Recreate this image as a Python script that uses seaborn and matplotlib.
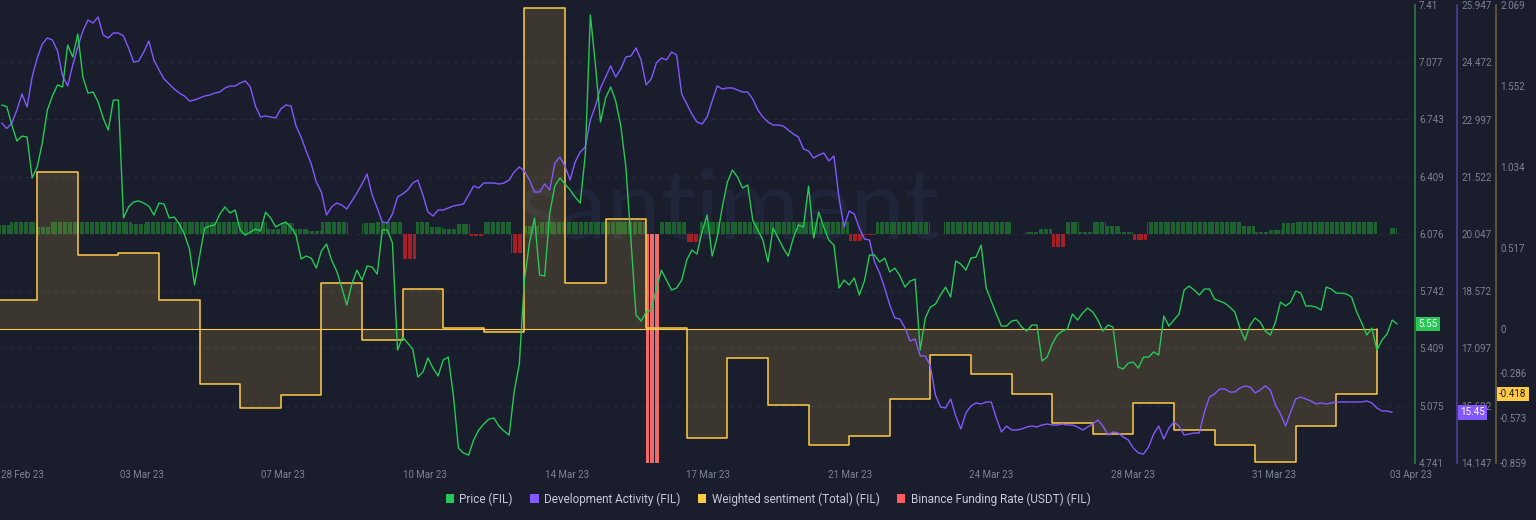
import numpy as np
import pandas as pd
import matplotlib
matplotlib.use("Agg")
import matplotlib.pyplot as plt
import matplotlib.dates as mdates
from matplotlib.patches import Patch
from matplotlib import font_manager
import seaborn as sns

# ---------------- data ----------------
series_start = "2023-02-27 03:00"   # 3-hourly samples
price = [
    6.827, 6.818, 6.710, 6.617, 6.646, 6.641, 6.402, 6.466, 6.606, 6.798,
    6.880, 6.944, 6.932, 7.177, 7.107, 7.241, 6.990, 6.897, 6.903, 6.845,
    6.751, 6.681, 6.856, 6.856, 6.169, 6.233, 6.262, 6.268, 6.256, 6.238,
    6.186, 6.256, 6.250, 6.169, 6.174, 6.134, 6.075, 5.988, 5.778, 5.947,
    6.110, 6.122, 6.128, 6.192, 6.233, 6.198, 6.215, 6.099, 6.069, 6.087,
    6.104, 6.093, 6.203, 6.169, 6.116, 6.134, 6.145, 6.116, 6.069, 5.930,
    5.947, 5.935, 5.877, 5.976, 6.017, 5.924, 5.860, 5.766, 5.661, 5.784,
    5.865, 5.807, 5.889, 5.883, 5.842, 6.099, 6.099, 6.023, 5.399, 5.475,
    5.440, 5.405, 5.242, 5.271, 5.353, 5.294, 5.248, 5.341, 5.358, 5.137,
    4.828, 4.799, 4.787, 4.875, 4.933, 4.968, 4.997, 5.003, 4.956, 4.927,
    4.904, 5.160, 5.318, 5.807, 6.023, 6.169, 5.836, 5.831, 6.198, 6.355,
    6.402, 6.367, 6.332, 6.291, 6.256, 6.536, 7.352, 7.060, 6.728, 6.868,
    6.932, 6.850, 6.705, 6.466, 6.040, 5.603, 5.568, 5.621, 5.632, 5.755,
    5.865, 5.807, 5.749, 5.761, 5.807, 5.924, 5.982, 5.959, 6.087, 6.186,
    5.947, 6.058, 6.233, 6.378, 6.448, 6.407, 6.343, 6.361, 6.157, 6.099,
    6.040, 5.912, 6.110, 6.052, 5.994, 5.947, 6.052, 6.128, 6.116, 6.355,
    6.052, 6.203, 6.116, 6.040, 6.011, 5.761, 5.807, 5.778, 5.819, 5.720,
    5.801, 5.953, 5.953, 5.912, 5.935, 5.854, 5.877, 5.831, 5.766, 5.801,
    5.813, 5.399, 5.586, 5.650, 5.667, 5.720, 5.766, 5.708, 5.918, 5.900,
    5.865, 5.935, 5.941, 6.011, 5.761, 5.685, 5.609, 5.539, 5.539, 5.568,
    5.574, 5.533, 5.510, 5.545, 5.545, 5.335, 5.358, 5.434, 5.487, 5.510,
    5.522, 5.609, 5.574, 5.615, 5.644, 5.621, 5.574, 5.510, 5.545, 5.533,
    5.300, 5.289, 5.323, 5.329, 5.294, 5.358, 5.358, 5.388, 5.370, 5.597,
    5.539, 5.574, 5.609, 5.749, 5.772, 5.749, 5.720, 5.755, 5.755, 5.696,
    5.685, 5.673, 5.650, 5.621, 5.527, 5.457, 5.545, 5.586, 5.562, 5.510,
    5.487, 5.562, 5.679, 5.656, 5.679, 5.743, 5.731, 5.656, 5.656, 5.650,
    5.632, 5.766, 5.755, 5.731, 5.731, 5.726, 5.708, 5.621, 5.557, 5.487,
    5.527, 5.399, 5.457, 5.493, 5.574, 5.551,
]
dev_activity = [
    22.907, 22.765, 22.907, 23.242, 23.654, 23.319, 24.092, 24.581, 24.942, 25.097,
    25.045, 24.762, 24.118, 23.860, 24.401, 24.865, 25.277, 25.561, 25.483, 25.638,
    25.174, 25.097, 25.226, 25.226, 25.148, 24.839, 24.479, 24.504, 24.736, 25.019,
    24.530, 24.272, 24.040, 23.912, 23.783, 23.680, 23.602, 23.474, 23.499, 23.551,
    23.602, 23.628, 23.680, 23.705, 23.809, 23.860, 23.860, 23.937, 23.989, 23.834,
    23.345, 23.061, 23.087, 23.061, 23.036, 23.268, 23.371, 23.345, 22.830, 22.546,
    22.185, 21.850, 21.386, 21.129, 20.536, 20.742, 20.846, 20.794, 20.691, 20.897,
    21.103, 21.335, 21.593, 21.052, 20.717, 20.356, 20.331, 20.562, 21.000, 21.078,
    21.181, 21.361, 21.438, 21.052, 20.614, 20.511, 20.665, 20.665, 20.717, 20.768,
    20.794, 20.820, 21.052, 21.284, 21.232, 21.361, 21.361, 21.361, 21.335, 21.361,
    21.438, 21.644, 21.773, 21.670, 21.438, 21.129, 21.129, 21.335, 21.181, 21.876,
    22.031, 21.799, 21.438, 21.902, 22.160, 22.289, 22.985, 23.345, 23.809, 24.092,
    24.375, 24.092, 24.298, 24.607, 24.633, 24.839, 24.530, 23.886, 24.040, 24.453,
    24.581, 24.530, 24.736, 24.659, 23.654, 23.396, 23.139, 22.932, 22.881, 23.061,
    23.474, 23.860, 23.783, 23.809, 23.809, 23.757, 23.705, 23.705, 23.525, 23.242,
    23.061, 22.932, 22.855, 22.855, 22.830, 22.727, 22.623, 22.546, 22.237, 22.185,
    22.005, 22.082, 22.134, 21.928, 22.057, 20.974, 20.227, 20.640, 20.562, 20.202,
    19.918, 19.892, 19.326, 19.042, 18.656, 18.218, 17.883, 17.857, 17.625, 17.290,
    17.342, 16.904, 16.904, 16.646, 15.899, 15.590, 15.564, 15.796, 15.358, 15.023,
    15.435, 15.616, 15.693, 15.667, 15.719, 15.719, 15.306, 14.946, 15.100, 14.997,
    14.997, 15.023, 15.075, 15.100, 15.075, 15.126, 15.152, 15.126, 15.126, 15.152,
    15.126, 15.126, 15.075, 14.997, 15.075, 15.152, 15.255, 15.100, 14.868, 14.946,
    14.920, 14.817, 14.740, 14.534, 14.405, 14.379, 14.559, 14.894, 15.100, 14.765,
    15.049, 15.203, 15.100, 14.868, 14.894, 14.920, 14.920, 15.461, 15.847, 15.925,
    16.053, 16.053, 15.976, 15.976, 16.079, 16.131, 16.105, 15.951, 16.028, 16.131,
    16.028, 15.642, 15.410, 15.100, 15.461, 15.796, 15.847, 15.796, 15.744, 15.667,
    15.693, 15.667, 15.693, 15.719, 15.719, 15.719, 15.719, 15.719, 15.719, 15.744,
    15.693, 15.564, 15.487, 15.487, 15.45,
]
sentiment_start = "2023-02-27"      # daily values
sentiment = [
    0.181, 1.001, 0.473, 0.486, 0.183, -0.356, -0.508, -0.425, 0.292, -0.075,
    0.251, 0.003, -0.022, 2.048, 0.290, 0.699, 0.006, -0.701, -0.190, -0.488,
    -0.744, -0.687, -0.448, -0.171, -0.292, -0.416, -0.606, -0.676, -0.478, -0.650,
    -0.744, -0.853, -0.623, -0.418,
]
funding_start = "2023-02-27 00:00"  # one value per 8h funding period, shown hourly
funding_hours = 828
funding = [
    0.0075, 0.01, 0.01, 0.0058, 0.01, 0.01, 0.01, 0.01, 0.01, 0.01,
    0.0083, 0.01, 0.01, 0.01, 0.01, 0.01, 0.01, 0.01, 0.01, 0.01,
    0.0042, 0.0092, 0.0042, 0.0025, 0.01, 0.01, 0.0004, 0.0092, 0.01, 0.01,
    -0.0208, 0.01, 0.0058, 0.0042, 0.0083, -0.0013, 0.01, 0.01, -0.0158, 0.0067,
    0.01, 0.01, 0.01, 0.01, 0.01, 0.01, 0.01, 0.01, -0.19, 0.01,
    0.01, -0.0067, 0.01, 0.01, 0.01, 0.01, 0.01, 0.01, 0.01, 0.01,
    0.01, 0.01, 0.01, -0.0058, -0.0008, 0.01, 0.01, 0.01, 0.01, 0.0004,
    0.01, 0.01, 0.01, 0.01, 0.01, 0.0001, 0.0017, 0.0042, -0.0108, 0.01,
    0.0013, 0.01, 0.0067, 0.0017, -0.005, 0.01, 0.01, 0.01, 0.01, 0.01,
    0.01, 0.01, 0.0063, 0.0017, 0.0033, 0.0092, 0.01, 0.01, 0.01, 0.01,
    0.01, 0.01, 0.0001, 0.005,
]

x_range = ["2023-02-27 02:00", "2023-04-02 22:30"]
xtick_times = ["2023-02-27 15:00", "2023-03-02 14:00", "2023-03-06 01:30",
               "2023-03-09 13:20", "2023-03-13 01:20", "2023-03-16 12:40",
               "2023-03-20 00:40", "2023-03-23 12:00", "2023-03-26 23:50",
               "2023-03-30 11:10", "2023-04-02 20:10"]
xtick_labels = ["28 Feb 23", "03 Mar 23", "07 Mar 23", "10 Mar 23", "14 Mar 23",
                "17 Mar 23", "21 Mar 23", "24 Mar 23", "28 Mar 23", "31 Mar 23",
                "03 Apr 23"]
price_ticks = [4.741, 5.075, 5.409, 5.742, 6.076, 6.409, 6.743, 7.077, 7.41]
dev_ticks = [14.147, 15.622, 17.097, 18.572, 20.047, 21.522, 22.997, 24.472, 25.947]
sent_ticks = [-0.859, -0.573, -0.286, 0, 0.517, 1.034, 1.552, 2.069]
legend_labels = ["Price (FIL)", "Development Activity (FIL)",
                 "Weighted sentiment (Total) (FIL)", "Binance Funding Rate (USDT) (FIL)"]

# ---------------- style ----------------
BG = "#191d2c"
GREEN = "#26c953"
PURPLE = "#8358ff"
GOLD = "#ffcb47"
RED = "#ff5b5b"
TICK = "#7d8394"
GRID = "#262b3c"

sns.set_style("dark", rc={"axes.facecolor": BG, "figure.facecolor": BG})
avail = {f.name for f in font_manager.fontManager.ttflist}
NARROW = "Liberation Sans Narrow" if "Liberation Sans Narrow" in avail else "Roboto"
plt.rcParams["font.family"] = [NARROW, "DejaVu Sans"]

fig = plt.figure(figsize=(15.36, 5.2), dpi=100, facecolor=BG)
W, H = 1536.0, 520.0
ax_f = fig.add_axes([0, (H - 463) / H, 1415 / W, 458 / H])
ax_f.set_facecolor(BG)
ax_s = ax_f.twinx()
ax_d = ax_f.twinx()
ax_p = ax_f.twinx()

# watermark
ax_f.text(0.515, 0.55, "santiment", transform=ax_f.transAxes, ha="center", va="center",
          fontsize=70, color="#20253a", family=["Lato", "DejaVu Sans"], zorder=0)

# funding rate bars (hidden axis, symmetric around zero)
f_vals = np.repeat(funding, 8)[:funding_hours]
f_times = mdates.date2num(pd.date_range(funding_start, periods=funding_hours, freq="h"))
lim_f = float(np.max(np.abs(funding)))
f_colors = ["#1d6131" if v >= 0 else ("#f06a6a" if v < -0.5 * lim_f else "#a31f25") for v in f_vals]
ax_f.bar(f_times, f_vals, width=0.82 / 24, align="edge", color=f_colors, linewidth=0, zorder=2)
ax_f.set_ylim(-lim_f, lim_f)

# sentiment step area
s_days = pd.date_range(sentiment_start, periods=len(sentiment) + 1, freq="D")
s_vals = sentiment + [sentiment[-1]]
ax_s.fill_between(s_days, s_vals, 0, step="post", color=GOLD, alpha=0.15, lw=0)
ax_s.step(list(s_days) + [s_days[-1]], s_vals + [0], where="post", color=GOLD, lw=1.1)
ax_s.hlines(0, s_days[0], s_days[-1], color=GOLD, lw=0.8)

# lines
t_dev = pd.date_range(series_start, periods=len(dev_activity), freq="3h")
t_price = pd.date_range(series_start, periods=len(price), freq="3h")
sns.lineplot(x=t_dev, y=dev_activity, ax=ax_d, color=PURPLE, linewidth=1.0)
sns.lineplot(x=t_price, y=price, ax=ax_p, color=GREEN, linewidth=1.0)

# axes limits & ticks
ax_p.set_ylim(price_ticks[0], price_ticks[-1])
ax_d.set_ylim(dev_ticks[0], dev_ticks[-1])
ax_s.set_ylim(sent_ticks[0], sent_ticks[-1])

for ax, ticks, pos, scol in [(ax_p, price_ticks, 1.0, "#2d7a46"),
                             (ax_d, dev_ticks, 1457 / 1415, "#4d3e96"),
                             (ax_s, sent_ticks, 1496 / 1415, "#6b5b3a")]:
    ax.set_yticks(ticks, [f"{v:g}" for v in ticks])
    ax.tick_params(axis="y", length=0, pad=3, labelsize=7, labelcolor=TICK)
    for side in ["left", "top", "bottom"]:
        ax.spines[side].set_visible(False)
    ax.spines["right"].set_visible(True)
    ax.spines["right"].set_position(("axes", pos))
    ax.spines["right"].set_color(scol)
    ax.spines["right"].set_linewidth(1.2)
    ax.set_xlabel("")
    ax.set_ylabel("")
    ax.grid(False)

for side in ax_f.spines:
    ax_f.spines[side].set_visible(False)

# grid on the base axes, aligned with the price ticks
pfr = [(v - price_ticks[0]) / (price_ticks[-1] - price_ticks[0]) for v in price_ticks[1:-1]]
ax_f.set_yticks([-lim_f + 2 * lim_f * f for f in pfr])
ax_f.tick_params(axis="y", left=False, labelleft=False, right=False, labelright=False)

xt = mdates.date2num(pd.to_datetime(xtick_times))
ax_f.set_xlim(mdates.date2num(pd.Timestamp(x_range[0])), mdates.date2num(pd.Timestamp(x_range[1])))
ax_f.set_xticks(xt, xtick_labels)
ax_f.set_xticks(xt[1:-1], minor=True)
ax_f.tick_params(axis="x", which="both", length=0, pad=5, labelsize=7, labelcolor=TICK)
ax_f.grid(False)
ax_f.grid(axis="y", which="major", color=GRID, linestyle=(0, (4, 4)), linewidth=0.8)
ax_f.grid(axis="x", which="minor", color=GRID, linestyle=(0, (4, 4)), linewidth=0.8)
ax_f.set_axisbelow(True)

# last-value badges
ax_p.annotate(f"{price[-1]:.2f}", xy=(1418 / 1415, price[-1]), xycoords=("axes fraction", "data"),
              ha="left", va="center", fontsize=7, color="white", annotation_clip=False, zorder=6,
              bbox=dict(boxstyle="square,pad=0.25", fc=GREEN, ec="none"))
ax_d.annotate(f"{dev_activity[-1]:.2f}", xy=(1460 / 1415, dev_activity[-1]), xycoords=("axes fraction", "data"),
              ha="left", va="center", fontsize=7, color="white", annotation_clip=False, zorder=6,
              bbox=dict(boxstyle="square,pad=0.25", fc=PURPLE, ec="none"))
ax_s.annotate(f"{sentiment[-1]:.3f}", xy=(1499 / 1415, sentiment[-1]), xycoords=("axes fraction", "data"),
              ha="left", va="center", fontsize=7, color="#1b1b1b", annotation_clip=False, zorder=6,
              bbox=dict(boxstyle="square,pad=0.25", fc=GOLD, ec="none"))

# legend
handles = [Patch(facecolor=c, edgecolor="none") for c in [GREEN, PURPLE, GOLD, RED]]
fig.legend(handles, legend_labels, loc="center", bbox_to_anchor=(0.5, 1 - 499 / H), ncol=4,
           frameon=False, fontsize=8.5, labelcolor="#c6cad6", handlelength=0.7, handleheight=0.7,
           handletextpad=0.45, columnspacing=1.5)

fig.savefig("out.png", dpi=100, facecolor=BG)
